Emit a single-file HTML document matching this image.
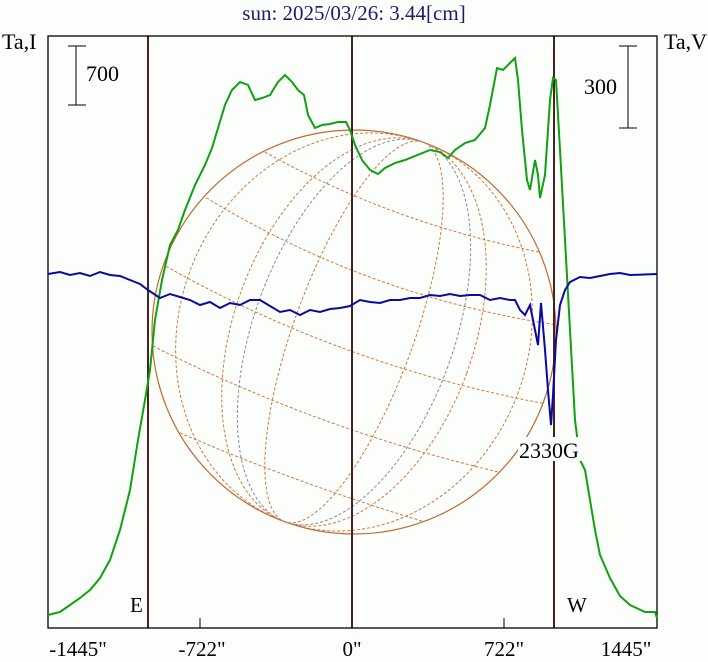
<!DOCTYPE html><html><head><style>body{margin:0;background:#fcfefc}svg{display:block}text{font-family:"Liberation Serif",serif}</style></head><body>
<svg width="708" height="662" xmlns="http://www.w3.org/2000/svg">
<rect width="708" height="662" fill="#fcfefc"/>
<text x="354" y="20" font-size="21" fill="#1c1c6c" text-anchor="middle">sun: 2025/03/26: 3.44[cm]</text>
<text x="2" y="49" font-size="22">Ta,I</text>
<text x="664" y="49" font-size="22">Ta,V</text>
<defs><clipPath id="c"><circle cx="354" cy="332" r="202"/></clipPath></defs>
<circle cx="354" cy="332" r="202" fill="none" stroke="#c06a30" stroke-width="1.2"/>
<g clip-path="url(#c)" fill="none" stroke="#d07838" stroke-width="1" stroke-dasharray="3,2">
<g transform="rotate(20 354 332)">
<ellipse cx="354" cy="332" rx="60" ry="202"/>
<ellipse cx="354" cy="332" rx="120" ry="202"/>
<ellipse cx="354" cy="332" rx="175" ry="202"/>
<path d="M140 250 Q354 300 570 250"/>
<path d="M140 332 Q354 370 570 332"/>
<path d="M140 180 Q354 230 570 180"/>
<path d="M140 410 Q354 440 570 410"/>
<path d="M140 480 Q354 500 570 480"/>
</g>
<g stroke="#8888a0"><ellipse cx="354" cy="332" rx="100" ry="202" transform="rotate(20 354 332)"/></g>
</g>
<g stroke="#4a2020" stroke-width="2"><line x1="148" y1="36" x2="148" y2="628"/><line x1="352" y1="36" x2="352" y2="628"/><line x1="554" y1="36" x2="554" y2="628"/></g>
<rect x="48" y="36" width="609" height="592" fill="none" stroke="#000" stroke-width="1.3"/>
<g stroke="#000"><line x1="200" y1="628" x2="200" y2="618"/><line x1="504" y1="628" x2="504" y2="618"/>
<line x1="76" y1="46" x2="76" y2="105"/><line x1="68" y1="46" x2="86" y2="46"/><line x1="68" y1="105" x2="86" y2="105"/>
<line x1="628" y1="46" x2="628" y2="128"/><line x1="619" y1="46" x2="637" y2="46"/><line x1="619" y1="128" x2="637" y2="128"/></g>
<text x="86" y="81" font-size="22">700</text><text x="584" y="94" font-size="22">300</text>
<polyline fill="none" stroke="#10a010" stroke-width="2" points="48,615 60,612 70,605 80,598 90,590 100,578 110,560 120,530 130,490 138,440 145,400 150,370 155,320 162,280 170,245 178,230 185,210 195,185 205,165 212,148 218,128 225,105 232,90 240,82 248,85 255,100 262,98 270,95 278,82 285,75 292,82 298,90 304,95 308,115 315,128 322,125 330,124 338,122 346,122 350,130 355,145 362,160 370,170 378,174 385,168 395,163 405,160 415,156 430,150 440,152 448,158 455,150 465,143 475,140 485,128 490,105 497,68 503,70 510,63 515,58 518,80 522,130 527,180 530,190 535,160 538,175 540,198 545,175 550,100 553,78 556,80 560,150 565,240 570,330 575,420 580,460 585,470 590,500 595,530 600,555 610,578 620,596 630,605 645,612 655,612 657,618"/>
<polyline fill="none" stroke="#0a0aa0" stroke-width="2" points="48,274 60,272 70,275 80,273 90,276 100,272 110,275 120,276 130,280 140,284 148,290 160,298 170,294 180,297 190,300 200,305 210,302 220,308 230,303 240,305 250,300 260,300 270,306 280,312 290,310 300,315 310,310 320,312 330,309 340,308 350,306 360,300 370,302 380,303 390,300 400,300 410,298 420,298 430,295 440,296 450,294 460,296 470,295 480,295 490,300 500,298 510,300 515,300 520,310 525,315 530,305 535,330 538,345 541,303 545,350 548,390 551,425 553,395 556,340 560,305 565,290 570,282 580,277 590,278 600,276 610,274 620,273 630,275 657,274"/>
<rect x="518" y="437" width="68" height="24" fill="#fcfefc"/>
<text x="519" y="458" font-size="22">2330G</text>
<text x="130" y="612" font-size="21">E</text><text x="567" y="612" font-size="21">W</text>
<g font-size="21" text-anchor="middle"><text x="78" y="656">-1445"</text><text x="202" y="656">-722"</text><text x="352" y="656">0"</text><text x="504" y="656">722"</text><text x="626" y="656">1445"</text></g>
</svg></body></html>
